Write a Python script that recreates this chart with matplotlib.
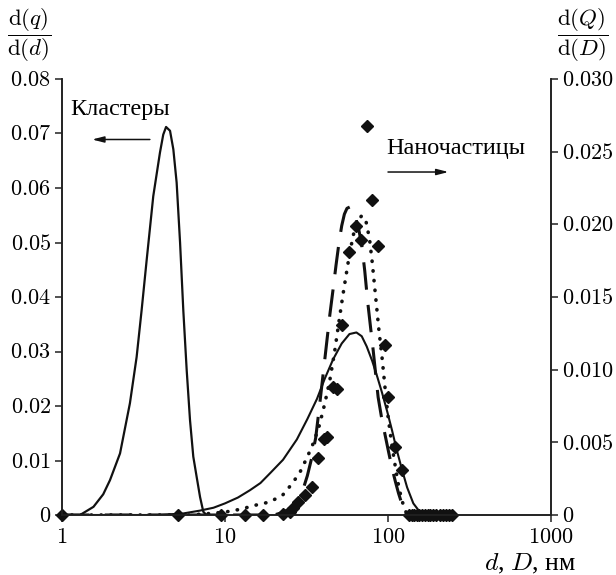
import matplotlib
matplotlib.use("Agg")
import matplotlib.pyplot as plt

plt.rcParams["mathtext.fontset"] = "cm"
plt.rcParams["font.family"] = ["Liberation Serif", "DejaVu Serif"]

# Cluster size distribution, left axis
cluster_d = [1.0, 1.29, 1.56, 1.79, 1.97, 2.27, 2.61, 2.87, 3.08, 3.31, 3.63, 3.99, 4.18,
             4.35, 4.6, 4.82, 5.05, 5.3, 5.55, 5.82, 6.1, 6.39, 6.7, 7.03, 7.36, 7.7]
cluster_q = [0.0, 0.0, 0.0015, 0.0038, 0.0064, 0.0113, 0.0205, 0.029, 0.0376, 0.0469, 0.0585,
             0.0665, 0.0698, 0.0712, 0.0705, 0.0671, 0.061, 0.050, 0.0375, 0.0266, 0.0174,
             0.0107, 0.007, 0.0033, 0.0006, 0.0]

# Nanoparticle distributions, right axis
broad_D = [1, 4, 5.5, 7, 8.5, 10, 12, 14.2, 16.5, 19, 22.7, 27.6, 32, 36.7, 41, 46, 52, 58,
           64, 69, 74, 80, 86, 92, 99, 106, 113, 122, 131, 143, 157, 170]
broad_Q = [0.0, 0.0, 0.0001, 0.0003, 0.0005, 0.0008, 0.0012, 0.0017, 0.0022, 0.0029, 0.0038,
           0.0052, 0.0066, 0.0080, 0.0094, 0.0107, 0.0118, 0.01245, 0.01256, 0.0123, 0.0116,
           0.0106, 0.0095, 0.0084, 0.0071, 0.0058, 0.0045, 0.0031, 0.0019, 0.0008, 0.0002, 0.0]

dashed_D = [1, 10, 20, 23, 26, 28, 30, 32, 34, 36, 38, 40, 42, 44, 46, 48, 50, 52, 54, 56,
            58.5, 61, 63.5, 66, 69, 72, 75, 78, 81, 84, 87, 91, 96, 101, 106, 111, 116, 123, 132]
dashed_Q = [0.0, 0.0, 0.0, 0.0002, 0.0006, 0.0011, 0.0017, 0.0027, 0.0039, 0.0053, 0.0075,
            0.0097, 0.0118, 0.0138, 0.0155, 0.0172, 0.0187, 0.0199, 0.0207, 0.0211, 0.0212,
            0.0209, 0.0204, 0.0197, 0.0186, 0.0168, 0.0147, 0.0130, 0.0114, 0.0097, 0.0081,
            0.0068, 0.0055, 0.0043, 0.0032, 0.0023, 0.0015, 0.0006, 0.0]

dotted_D = [1, 6, 8, 10, 12.5, 15.7, 18.9, 22.7, 26, 29, 32, 35, 38, 41, 44, 47, 50, 53, 57,
            61, 65, 69, 73, 77, 80, 84, 88, 92, 96, 100, 105, 111, 117, 124, 131]
dotted_Q = [0.0, 0.0, 0.0001, 0.0002, 0.0004, 0.0007, 0.0009, 0.0014, 0.0022, 0.0030, 0.0040,
            0.0050, 0.0062, 0.0077, 0.0093, 0.0112, 0.0133, 0.0152, 0.0174, 0.0192, 0.0202,
            0.0206, 0.0203, 0.0190, 0.0174, 0.0150, 0.0127, 0.0108, 0.0087, 0.0068, 0.0050,
            0.0033, 0.0018, 0.0007, 0.0]

points_D = [1, 5.15, 9.5, 13.3, 17.1, 22.7, 25, 26, 28, 31, 34.2, 37.2, 40.5, 42, 46, 48.5,
            52.2, 57.7, 63.6, 68.3, 74.3, 79.8, 86.9, 95.9, 100, 110, 122,
            135, 140, 145, 150, 156, 162, 168, 175, 182, 190, 198, 207, 216, 226, 236, 247]
points_Q = [0.0, 0.0, 0.0, 0.0, 0.0, 0.0001, 0.0002, 0.0005, 0.0009, 0.0014, 0.0019, 0.0039,
            0.0052, 0.0054, 0.0088, 0.0087, 0.0131, 0.0181, 0.0199, 0.0189, 0.0268, 0.0217,
            0.0185, 0.0117, 0.0081, 0.0047, 0.0031,
            0.0, 0.0, 0.0, 0.0, 0.0, 0.0, 0.0, 0.0, 0.0, 0.0, 0.0, 0.0, 0.0, 0.0, 0.0, 0.0]

x_ticks = [1, 10, 100, 1000]
x_labels = ["1", "10", "100", "1000"]
left_ticks = [0, 0.01, 0.02, 0.03, 0.04, 0.05, 0.06, 0.07, 0.08]
left_labels = ["0", "0.01", "0.02", "0.03", "0.04", "0.05", "0.06", "0.07", "0.08"]
right_ticks = [0, 0.005, 0.010, 0.015, 0.020, 0.025, 0.030]
right_labels = ["0", "0.005", "0.010", "0.015", "0.020", "0.025", "0.030"]

W, H = 616, 575
fig = plt.figure(figsize=(W / 100, H / 100), dpi=100)
x0, x1, y0, y1 = 62, 551, 515, 79
ax = fig.add_axes([x0 / W, 1 - y0 / H, (x1 - x0) / W, (y0 - y1) / H])
ax2 = ax.twinx()

ax.set_xscale("log")
ax.set_xlim(1, 1000)
ax.set_ylim(0, 0.08)
ax2.set_ylim(0, 0.030)

ink = "#111111"
ax.plot(cluster_d, cluster_q, color=ink, lw=1.6, solid_joinstyle="round")
ax2.plot(broad_D, broad_Q, color=ink, lw=1.5, solid_joinstyle="round")
ax2.plot(dashed_D, dashed_Q, color=ink, lw=2.2, dashes=(9, 5))
ax2.plot(dotted_D, dotted_Q, color=ink, lw=2.6, dashes=(0.1, 2.6), dash_capstyle="round")
ax2.plot(points_D, points_Q, ls="none", marker="D", ms=6.5, color=ink, clip_on=False)

tick_fs = 16
for a in (ax, ax2):
    a.spines["top"].set_visible(False)
    for s in a.spines.values():
        s.set_linewidth(1.2)
        s.set_color("#222222")
    a.tick_params(which="major", direction="out", length=5, width=1.1, color="#222222",
                  labelsize=tick_fs, pad=3)
    a.tick_params(which="minor", length=0)
ax.tick_params(axis="x", pad=5)

ax.set_xticks(x_ticks)
ax.set_xticklabels(["$%s$" % s for s in x_labels])
ax.set_yticks(left_ticks)
ax.set_yticklabels(["$%s$" % s for s in left_labels])
ax2.set_yticks(right_ticks)
ax2.set_yticklabels(["$%s$" % s for s in right_labels])

# Axis titles
fig.text(29 / W, 1 - 35 / H, r"$\dfrac{\mathrm{d}(q)}{\mathrm{d}(d)}$", fontsize=16.5,
         ha="center", va="center")
fig.text(583 / W, 1 - 35 / H, r"$\dfrac{\mathrm{d}(Q)}{\mathrm{d}(D)}$", fontsize=16.5,
         ha="center", va="center")
fig.text(576 / W, 1 - 564 / H, "$d$, $D$, нм", fontsize=18.5, ha="right", va="center")

# Annotations
ax.text(2.27, 0.0744, "Кластеры", fontsize=17.5, ha="center", va="center")
ax.annotate("", xy=(1.53, 0.0689), xytext=(3.46, 0.0689),
            arrowprops=dict(arrowstyle="-|>,head_length=0.7,head_width=0.18",
                            lw=1.1, color=ink, shrinkA=0, shrinkB=0))
ax2.text(262, 0.02525, "Наночастицы", fontsize=17.5, ha="center", va="center")
ax2.annotate("", xy=(235, 0.0236), xytext=(100, 0.0236),
             arrowprops=dict(arrowstyle="-|>,head_length=0.7,head_width=0.18",
                             lw=1.1, color=ink, shrinkA=0, shrinkB=0))

fig.savefig("out.png", dpi=100)
